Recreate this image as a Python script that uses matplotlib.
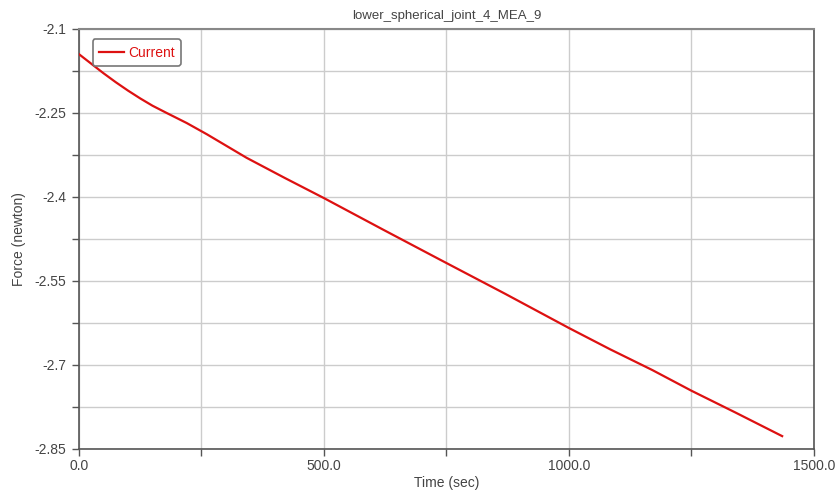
import matplotlib
matplotlib.use("Agg")
import matplotlib.pyplot as plt
from matplotlib.ticker import MultipleLocator, FuncFormatter

time_sec = [0, 25, 50, 75, 100, 125, 150, 179, 220, 261, 342, 420, 500, 620, 737, 870, 1000, 1084, 1170, 1250, 1340, 1435]
force_n = [-2.145, -2.162, -2.179, -2.195, -2.210, -2.224, -2.237, -2.250, -2.268, -2.288, -2.330, -2.366, -2.402,
           -2.458, -2.512, -2.573, -2.634, -2.672, -2.709, -2.746, -2.785, -2.827]

title = "lower_spherical_joint_4_MEA_9"
xlabel = "Time (sec)"
ylabel = "Force (newton)"
series_label = "Current"

plt.rcParams['font.family'] = ['Liberation Sans', 'DejaVu Sans']

fig = plt.figure(figsize=(8.37, 4.96), dpi=100)
ax = fig.add_axes([79/837, 1-449/496, (814-79)/837, (449-29)/496])

ax.plot(time_sec, force_n, color='#dd1111', lw=1.6, label=series_label, zorder=3)

ax.set_xlim(0, 1500)
ax.set_ylim(-2.85, -2.1)
ax.xaxis.set_major_locator(MultipleLocator(500))
ax.xaxis.set_minor_locator(MultipleLocator(250))
ax.yaxis.set_major_locator(MultipleLocator(0.15))
ax.yaxis.set_minor_locator(MultipleLocator(0.075))
ax.xaxis.set_major_formatter(FuncFormatter(lambda v, p: f"{v:.1f}"))
ax.yaxis.set_major_formatter(FuncFormatter(lambda v, p: f"{round(v, 3):g}"))

ax.grid(True, which='both', color='#cccccc', lw=1.0, zorder=0)
ax.tick_params(which='both', direction='out', length=5, width=1, color='#555555',
               labelcolor='#444444', labelsize=10)
ax.tick_params(axis='y', pad=4)
ax.tick_params(axis='x', pad=2)

for side in ['left', 'bottom', 'right']:
    ax.spines[side].set_color('#555555')
    ax.spines[side].set_linewidth(1.2)
ax.spines['top'].set_color('#888888')
ax.spines['top'].set_linewidth(1.5)

ax.set_title(title, fontsize=9.5, color='#444444', pad=7)
ax.set_xlabel(xlabel, fontsize=10, color='#444444', labelpad=2)
ax.set_ylabel(ylabel, fontsize=10, color='#444444', labelpad=6)

leg = ax.legend(loc='upper left', fontsize=10, labelcolor='linecolor', frameon=True,
                fancybox=True, framealpha=1, edgecolor='#777777', handlelength=1.8,
                borderpad=0.45, handletextpad=0.3, borderaxespad=0.3,
                bbox_to_anchor=(0.013, 0.985))
leg.get_frame().set_linewidth(1.2)

fig.savefig("out.png", dpi=100)
